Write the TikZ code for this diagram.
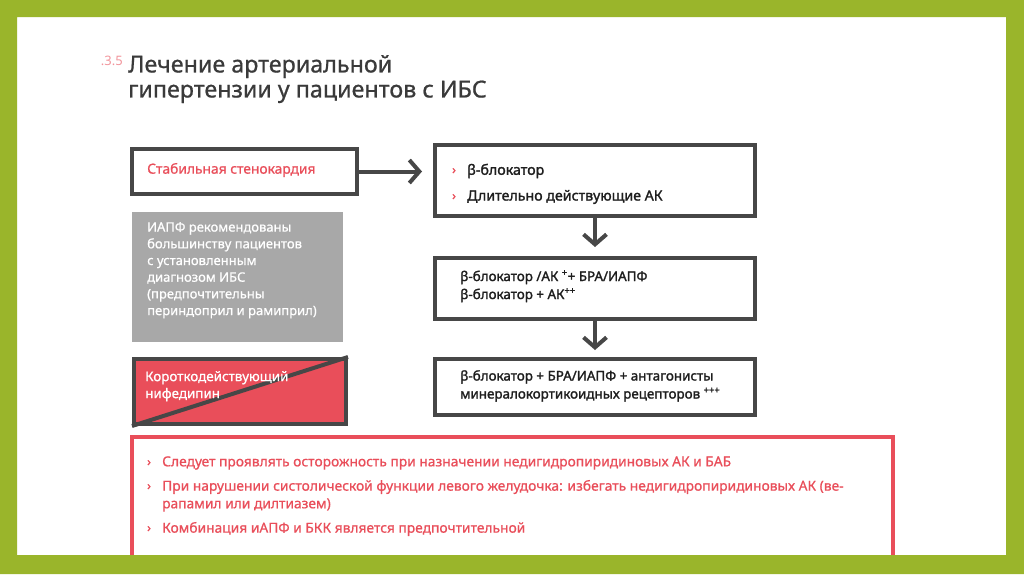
\documentclass[tikz,border=0pt]{standalone}
\usepackage{fontspec}
\setmainfont{Noto Sans}
\newfontfamily\medfont[FakeBold=0.8]{Noto Sans}
\newfontfamily\semifont[FakeBold=1.6]{Noto Sans}
\usetikzlibrary{arrows.meta}
\definecolor{frame}{HTML}{9AB52B}
\definecolor{dk}{HTML}{474747}
\definecolor{rd}{HTML}{E94E5A}
\definecolor{grbox}{HTML}{A8A8A8}
\definecolor{ttl}{HTML}{3A3A3A}
\definecolor{txt}{HTML}{1E1E1E}
\begin{document}
\begin{tikzpicture}[x=1pt,y=-1pt,
  box/.style={draw=dk,line width=4pt,fill=white,inner sep=0pt,anchor=north west},
  lbl/.style={inner sep=0pt,anchor=west,font=\medfont\fontsize{13.8}{16}\selectfont},
  blbl/.style={inner sep=0pt,anchor=west,text=txt,font=\semifont\fontsize{14.2}{16}\selectfont},
  arr/.style={draw=dk,line width=4pt,-{Straight Barb[length=10pt,width=23pt]}},
  bul/.style={inner sep=0pt,anchor=west,text=rd,font=\semifont\fontsize{12}{14}\selectfont}]
\useasboundingbox (0,0) rectangle (1024,574);
\fill[white] (0,0) rectangle (1024,574);
% title
\node[inner sep=0pt,anchor=east,text=rd!60,font=\fontsize{13}{14}\selectfont] (num) at (123,61) {.3.5};
\node[inner sep=0pt,anchor=north west,align=left,text=ttl,font=\medfont\fontsize{23.3}{25}\selectfont] (title) at (128,55) {Лечение артериальной\\гипертензии у пациентов с ИБС};
% left column
\node[box,minimum width=225,minimum height=45] (stab) at (130,147) {};
\node[lbl,text=rd] (stabt) at (147,170) {Стабильная стенокардия};
\node[inner sep=0pt,anchor=north west,fill=grbox,minimum width=211,minimum height=130] (gray) at (132,212) {};
\node[inner sep=0pt,anchor=north west,align=left,text=white,font=\medfont\fontsize{13}{16.7}\selectfont] (grayt) at (147,222) {ИАПФ рекомендованы\\большинству пациентов\\с установленным\\диагнозом ИБС\\(предпочтительны\\периндоприл и рамиприл)};
\node[box,fill=rd,minimum width=212,minimum height=65] (nif) at (132,357) {};
\draw[dk,line width=4pt] (nif.south west) -- (nif.north east);
\node[inner sep=0pt,anchor=north west,align=left,text=white,font=\medfont\fontsize{13.4}{17}\selectfont] (nift) at (145,371) {Короткодействующий\\нифедипин};
% right column
\node[box,minimum width=320,minimum height=71] (b1) at (433,143) {};
\node[bul] (b1a) at (452,171) {›};
\node[blbl] (b1at) at (467,171) {β-блокатор};
\node[bul] (b1b) at (452,197) {›};
\node[blbl] (b1bt) at (467,197) {Длительно действующие АК};
\node[box,minimum width=320,minimum height=61] (b2) at (433,256) {};
\node[inner sep=0pt,anchor=north west,align=left,text=txt,font=\semifont\fontsize{13.4}{18}\selectfont] (b2t) at (460,270) {β-блокатор /АК \textsuperscript{+}+ БРА/ИАПФ\\β-блокатор + АК\textsuperscript{++}};
\node[box,minimum width=320,minimum height=56] (b3) at (433,357) {};
\node[inner sep=0pt,anchor=north west,align=left,text=txt,font=\semifont\fontsize{13.4}{18}\selectfont] (b3t) at (460,370) {β-блокатор + БРА/ИАПФ + антагонисты\\минералокортикоидных рецепторов \textsuperscript{+++}};
% connectors
\draw[arr,shorten >=11pt] (stab.east) -- (stab.east -| b1.west);
\draw[arr,shorten >=9pt] (b1.south) -- (b2.north);
\draw[arr,shorten >=7pt] (b2.south) -- (b3.north);
% bottom warning box (its lower edge is hidden by the frame)
\draw[rd,line width=4pt] (132,556) -- (132,437) -- (893,437) -- (893,556);
\node[bul] (w1) at (147,463) {›};
\node[lbl,text=rd] (w1t) at (162,463) {Следует проявлять осторожность при назначении недигидропиридиновых АК и БАБ};
\node[bul] (w2) at (147,487) {›};
\node[lbl,text=rd] (w2t) at (162,487) {При нарушении систолической функции левого желудочка: избегать недигидропиридиновых АК (ве-};
\node[lbl,text=rd] (w2u) at (162,505) {рапамил или дилтиазем)};
\node[bul] (w3) at (147,529) {›};
\node[lbl,text=rd] (w3t) at (162,529) {Комбинация иАПФ и БКК является предпочтительной};
% green frame
\fill[frame,even odd rule] (0,0) rectangle (1024,574) (17,17) rectangle (1006,555);
\end{tikzpicture}
\end{document}
